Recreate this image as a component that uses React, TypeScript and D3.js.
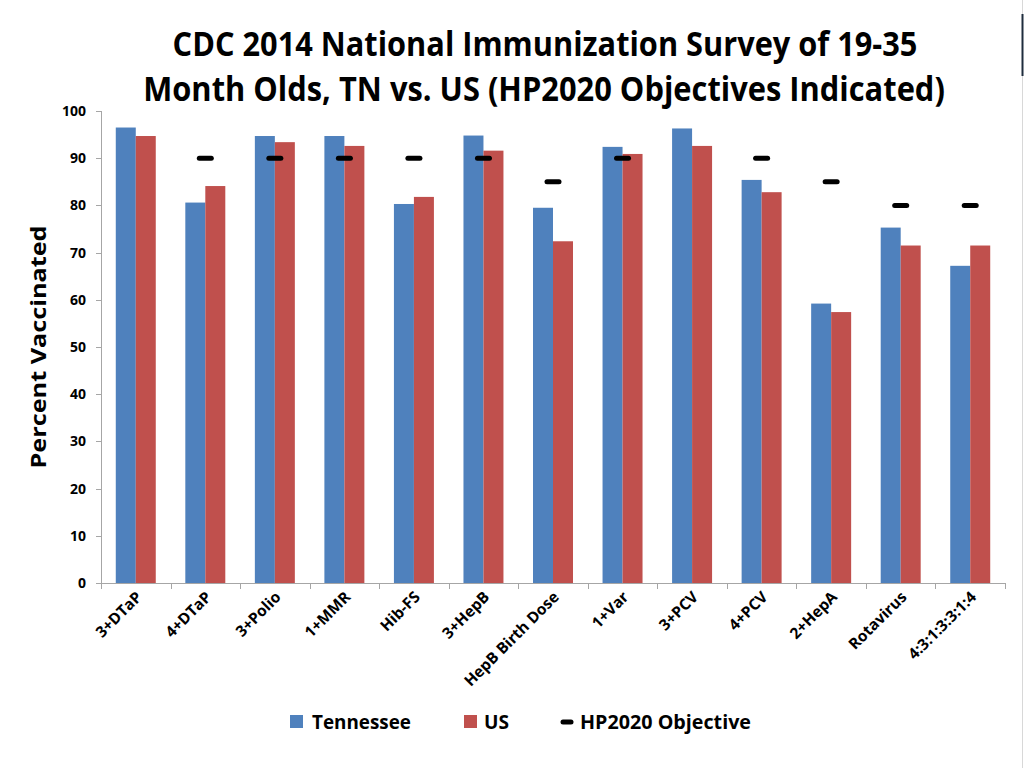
import React, { useLayoutEffect, useRef, useState } from "react";
import * as d3 from "d3";

const categories = ["3+DTaP", "4+DTaP", "3+Polio", "1+MMR", "Hib-FS", "3+HepB", "HepB Birth Dose", "1+Var", "3+PCV", "4+PCV", "2+HepA", "Rotavirus", "4:3:1:3:3:1:4"];
const tennessee = [96.5, 80.6, 94.7, 94.7, 80.3, 94.8, 79.5, 92.4, 96.3, 85.4, 59.2, 75.3, 67.2];
const us = [94.7, 84.1, 93.4, 92.6, 81.8, 91.6, 72.4, 90.9, 92.6, 82.8, 57.4, 71.5, 71.5];
const objective: (number | null)[] = [null, 90, 90, 90, 90, 90, 85, 90, null, 90, 85, 80, 80];
const yTicks = [0, 10, 20, 30, 40, 50, 60, 70, 80, 90, 100];
const seriesNames = ["Tennessee", "US"];
const titleLines = ["CDC 2014 National Immunization Survey of 19-35", "Month Olds, TN vs. US (HP2020 Objectives Indicated)"];

const BLUE = "#4F81BD";
const RED = "#C0504D";
const FONT = "'Open Sans', 'Noto Sans', sans-serif";

function FitText({ x, y, width, fontSize, children, anchor = "middle" }: { x: number; y: number; width: number; fontSize: number; children: string; anchor?: string }) {
  const ref = useRef<SVGTextElement>(null);
  const [sx, setSx] = useState(1);
  useLayoutEffect(() => {
    if (ref.current) {
      const w = ref.current.getComputedTextLength();
      if (w > 0) setSx(width / w);
    }
  }, [width, children]);
  return (
    <g transform={`translate(${x},${y}) scale(${sx},1)`}>
      <text ref={ref} x={0} y={0} textAnchor={anchor} fontSize={fontSize} fontWeight={700} fill="#000">{children}</text>
    </g>
  );
}

export default function App() {
  const W = 1024, H = 768;
  const left = 101, right = 1005, top = 111, bottom = 583;
  const x = d3.scaleBand<string>().domain(categories).range([left, right]).paddingInner(0.425).paddingOuter(0.2125);
  const y = d3.scaleLinear().domain([0, 100]).range([bottom, top]);
  const sub = d3.scaleBand<string>().domain(seriesNames).range([0, x.bandwidth()]);
  const values = [tennessee, us];
  const colors = [BLUE, RED];
  const step = (right - left) / categories.length;
  const boundaries = d3.range(categories.length + 1).map((i) => left + i * step);

  return (
    <svg width={W} height={H} style={{ position: "absolute", left: 0, top: 0, background: "#fff" }} fontFamily={FONT}>
      <rect x={0} y={0} width={W} height={H} fill="#fff" />
      {/* slide edge */}
      <line x1={1022.5} y1={0} x2={1022.5} y2={H} stroke="#d8d8d8" strokeWidth={1} />
      <line x1={1022.5} y1={14} x2={1022.5} y2={76} stroke="#1f2d3d" strokeWidth={2} />

      {/* title */}
      <FitText x={545} y={56} width={745} fontSize={34}>{titleLines[0]}</FitText>
      <FitText x={544} y={101} width={802} fontSize={34}>{titleLines[1]}</FitText>

      {/* y axis */}
      <line x1={left + 0.5} y1={top} x2={left + 0.5} y2={bottom} stroke="#a6a6a6" />
      {yTicks.map((t) => (
        <g key={t}>
          <line x1={left - 5} x2={left} y1={Math.round(y(t)) + 0.5} y2={Math.round(y(t)) + 0.5} stroke="#a6a6a6" />
          <text x={86} y={y(t)} dy="0.36em" textAnchor="end" fontSize={14} fontWeight={700} fill="#000">{t}</text>
        </g>
      ))}
      <text transform={`translate(46,347) rotate(-90)`} textAnchor="middle" fontSize={21} fontWeight={700} fill="#000" textLength={243} lengthAdjust="spacingAndGlyphs">Percent Vaccinated</text>

      {/* bars */}
      {categories.map((c, i) => (
        <g key={c}>
          {values.map((vals, s) => (
            <rect key={s} x={(x(c) as number) + (sub(seriesNames[s]) as number)} y={y(vals[i])} width={sub.bandwidth()} height={bottom - y(vals[i])} fill={colors[s]} />
          ))}
        </g>
      ))}

      {/* x axis */}
      <line x1={left} y1={bottom + 0.5} x2={right} y2={bottom + 0.5} stroke="#a6a6a6" />
      {boundaries.map((b, i) => (
        <line key={i} x1={Math.round(b) + 0.5} x2={Math.round(b) + 0.5} y1={bottom} y2={bottom + 6} stroke="#a6a6a6" />
      ))}

      {/* objectives */}
      {categories.map((c, i) => {
        const o = objective[i];
        if (o == null) return null;
        const cx = (x(c) as number) + x.bandwidth() / 2;
        return <line key={c} x1={cx - 6} x2={cx + 6} y1={y(o)} y2={y(o)} stroke="#000" strokeWidth={5} strokeLinecap="round" />;
      })}

      {/* x labels */}
      {categories.map((c) => {
        const cx = (x(c) as number) + x.bandwidth() / 2;
        return (
          <text key={c} transform={`translate(${cx + 7},${bottom + 15}) rotate(-45)`} textAnchor="end" fontSize={15.5} fontWeight={700} fill="#000">{c}</text>
        );
      })}

      {/* legend */}
      <rect x={290} y={715} width={13} height={13} fill={BLUE} />
      <text x={312} y={729} fontSize={20} fontWeight={700} fill="#000" textLength={99} lengthAdjust="spacingAndGlyphs">Tennessee</text>
      <rect x={464} y={715} width={13} height={13} fill={RED} />
      <text x={484} y={729} fontSize={20} fontWeight={700} fill="#000" textLength={25} lengthAdjust="spacingAndGlyphs">US</text>
      <line x1={563} x2={571} y1={722} y2={722} stroke="#000" strokeWidth={5} strokeLinecap="round" />
      <text x={580} y={729} fontSize={20} fontWeight={700} fill="#000" textLength={171} lengthAdjust="spacingAndGlyphs">HP2020 Objective</text>
    </svg>
  );
}
